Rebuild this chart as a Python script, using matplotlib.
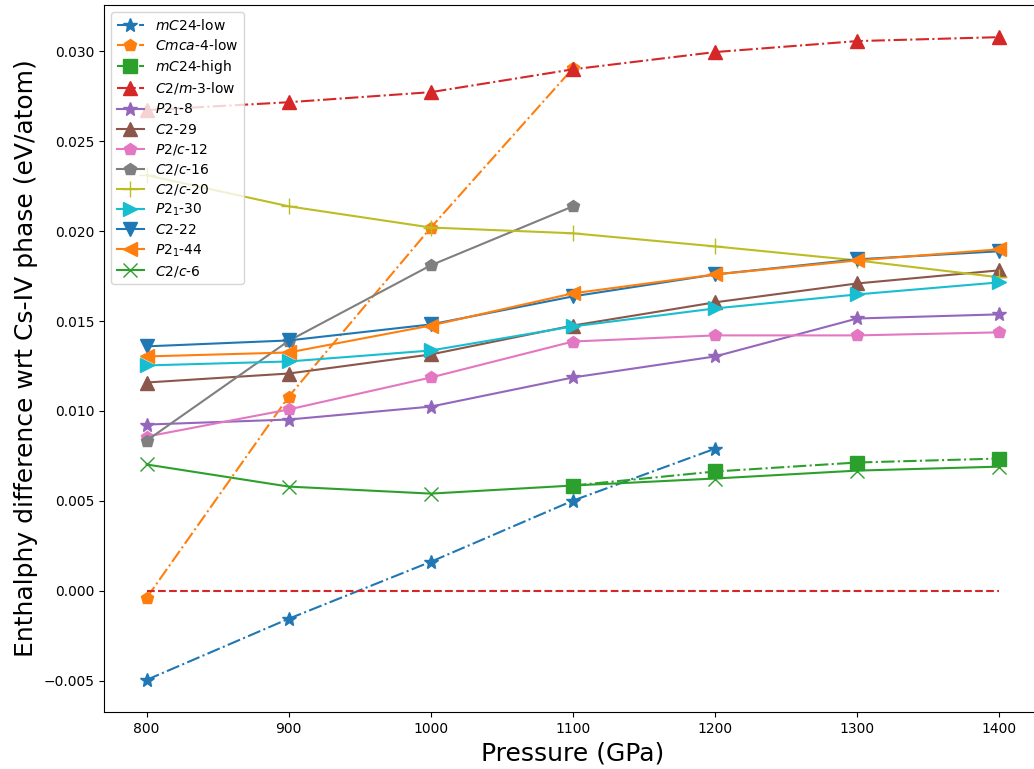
import numpy as np
import matplotlib
matplotlib.use("Agg")
import matplotlib.pyplot as plt

# pressures (GPa)
p_all = [800, 900, 1000, 1100, 1200, 1300, 1400]

# enthalpy differences wrt Cs-IV (eV/atom)
mc24_low_p = [800, 900, 1000, 1100, 1200]
mc24_low = [-0.00496, -0.00156, 0.00161, 0.00501, 0.0079]
cmca4_low_p = [800, 900, 1000, 1100]
cmca4_low = [-0.0004, 0.0108, 0.0202, 0.02906]
mc24_high_p = [1100, 1200, 1300, 1400]
mc24_high = [0.00585, 0.00663, 0.00713, 0.00735]
c2m3_low = [0.02673, 0.02717, 0.02773, 0.0290, 0.02996, 0.03057, 0.03079]
p21_8 = [0.00924, 0.00952, 0.01024, 0.01186, 0.01303, 0.01514, 0.01537]
c2_29 = [0.01158, 0.01208, 0.01314, 0.01475, 0.01604, 0.01709, 0.01782]
p2c_12 = [0.00857, 0.01008, 0.01186, 0.01386, 0.0142, 0.0142, 0.01437]
c2c16_p = [800, 900, 1000, 1100]
c2c_16 = [0.00835, 0.0139, 0.0181, 0.02138]
c2c_20 = [0.02311, 0.02138, 0.0202, 0.01988, 0.01915, 0.01837, 0.01743]
p21_30 = [0.01253, 0.01275, 0.01336, 0.0147, 0.0157, 0.01648, 0.01715]
c2_22 = [0.01359, 0.01392, 0.01481, 0.01637, 0.01759, 0.01843, 0.01888]
p21_44 = [0.01303, 0.01325, 0.01475, 0.01654, 0.01759, 0.01837, 0.01899]
c2c_6 = [0.00702, 0.00579, 0.0054, 0.00585, 0.00624, 0.00668, 0.0069]
ref_line = [0.0, 0.0, 0.0, 0.0, 0.0, 0.0, 0.0]

fig = plt.figure(figsize=(10.34, 7.69), dpi=100)
ax = fig.add_axes([104 / 1034, 57 / 769, 938 / 1034, 707 / 769])

ms = 10
ax.plot(mc24_low_p, mc24_low, "*-.", ms=ms, label="$mC$24-low")
ax.plot(cmca4_low_p, cmca4_low, "p-.", ms=ms - 1, label="$Cmca$-4-low")
ax.plot(mc24_high_p, mc24_high, "s-.", ms=ms, label="$mC$24-high")
ax.plot(p_all, c2m3_low, "^-.", ms=ms, label="$C2/m$-3-low")
ax.plot(p_all, p21_8, "*-", ms=ms, label="$P2_1$-8")
ax.plot(p_all, c2_29, "^-", ms=ms, label="$C2$-29")
ax.plot(p_all, p2c_12, "p-", ms=ms - 1, label="$P2/c$-12")
ax.plot(c2c16_p, c2c_16, "p-", ms=ms - 1, label="$C2/c$-16")
ax.plot(p_all, c2c_20, "+-", ms=ms + 1, label="$C2/c$-20")
ax.plot(p_all, p21_30, ">-", ms=ms, label="$P2_1$-30")
ax.plot(p_all, c2_22, "v-", ms=ms, label="$C2$-22")
ax.plot(p_all, p21_44, "<-", ms=ms, label="$P2_1$-44")
ax.plot(p_all, c2c_6, "x-", ms=ms, label="$C2/c$-6")
ax.plot(p_all, ref_line, "--", color="tab:red")

ax.set_xlabel("Pressure (GPa)", fontsize=18)
ax.set_ylabel("Enthalphy difference wrt Cs-IV phase (eV/atom)", fontsize=18)
ax.tick_params(labelsize=10)
ax.legend(loc="upper left", fontsize=10, labelspacing=0.36)

fig.savefig("out.png", dpi=100)
